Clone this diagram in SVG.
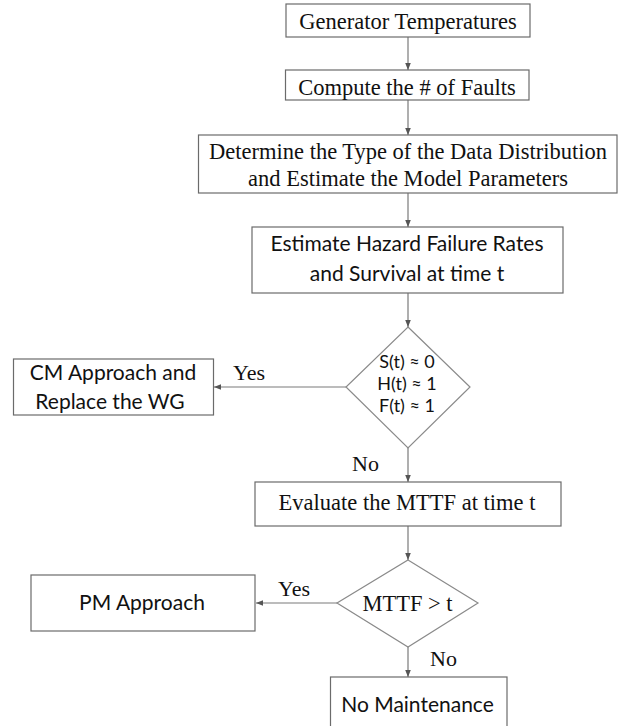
<svg xmlns="http://www.w3.org/2000/svg" width="618" height="726" viewBox="0 0 618 726">
<defs>
<style>
.box{fill:#fff;stroke:#6b6b6b;stroke-width:1.2}
.dia{fill:#fff;stroke:#8a8a8a;stroke-width:1.2}
.ln{fill:none;stroke:#7a7a7a;stroke-width:1.2;marker-end:url(#ah)}
.tr{font-family:"Liberation Serif","Times New Roman",serif;font-size:22.5px;fill:#111;text-anchor:middle}
.lb{font-family:"Liberation Serif","Times New Roman",serif;font-size:22px;fill:#111}
.ca{font-family:Lato,"Noto Sans",sans-serif;font-size:21px;fill:#111;text-anchor:middle}
.cd{font-family:Lato,"Noto Sans",sans-serif;font-size:18px;fill:#111;text-anchor:middle}
</style>
<marker id="ah" viewBox="0 0 10 10" refX="10" refY="5" markerWidth="7" markerHeight="7" markerUnits="userSpaceOnUse" orient="auto">
<path d="M0,1 L10,5 L0,9 Z" fill="#555"/>
</marker>
</defs>
<rect width="618" height="726" fill="#fff"/>
<g id="connectors">
<line class="ln" x1="408" y1="37" x2="408" y2="70"/>
<line class="ln" x1="408" y1="100" x2="408" y2="135"/>
<line class="ln" x1="408" y1="193" x2="408" y2="227"/>
<line class="ln" x1="408" y1="293" x2="408" y2="327"/>
<line class="ln" x1="346" y1="387" x2="214" y2="387"/>
<line class="ln" x1="408" y1="448" x2="408" y2="482"/>
<line class="ln" x1="408" y1="526" x2="408" y2="560"/>
<line class="ln" x1="337" y1="603" x2="256" y2="603"/>
<line class="ln" x1="408" y1="647" x2="408" y2="677"/>
<text class="lb" x="233" y="380">Yes</text>
<text class="lb" x="352" y="470.5">No</text>
<text class="lb" x="278" y="596">Yes</text>
<text class="lb" x="430" y="666">No</text>
</g>
<g id="n1">
<rect class="box" x="286" y="4" width="244" height="33"/>
<text class="tr" x="408" y="29">Generator Temperatures</text>
</g>
<g id="n2">
<rect class="box" x="285.5" y="70" width="243.5" height="30"/>
<text class="tr" x="407" y="94.5">Compute the # of Faults</text>
</g>
<g id="n3">
<rect class="box" x="198.5" y="135" width="418.5" height="58"/>
<text class="tr" x="408" y="158.5">Determine the Type of the Data Distribution</text>
<text class="tr" x="408" y="186">and Estimate the Model Parameters</text>
</g>
<g id="n4">
<rect class="box" x="252" y="227" width="311" height="66"/>
<text class="ca" x="407" y="251">Estimate Hazard Failure Rates</text>
<text class="ca" x="407" y="281">and Survival at time t</text>
</g>
<g id="n5">
<polygon class="dia" points="408,327 470,387 408,448 346,387"/>
<text class="cd" x="407" y="368">S(t) ≈ 0</text>
<text class="cd" x="407" y="390">H(t) ≈ 1</text>
<text class="cd" x="407" y="412">F(t) ≈ 1</text>
</g>
<g id="n6">
<rect class="box" x="13.5" y="359" width="200" height="56"/>
<text class="ca" x="113" y="380">CM Approach and</text>
<text class="ca" x="110" y="408.5">Replace the WG</text>
</g>
<g id="n7">
<rect class="box" x="255" y="482" width="306" height="44"/>
<text class="tr" x="407" y="510">Evaluate the MTTF at time t</text>
</g>
<g id="n8">
<polygon class="dia" points="408,560 478,603 408,647 337,603"/>
<text class="tr" x="407.5" y="611">MTTF &gt; t</text>
</g>
<g id="n9">
<rect class="box" x="31" y="575" width="224" height="56"/>
<text class="ca" x="142" y="610">PM Approach</text>
</g>
<g id="n10">
<rect class="box" x="330.5" y="677" width="176.5" height="70"/>
<text class="ca" x="417.5" y="712">No Maintenance</text>
</g>
</svg>
